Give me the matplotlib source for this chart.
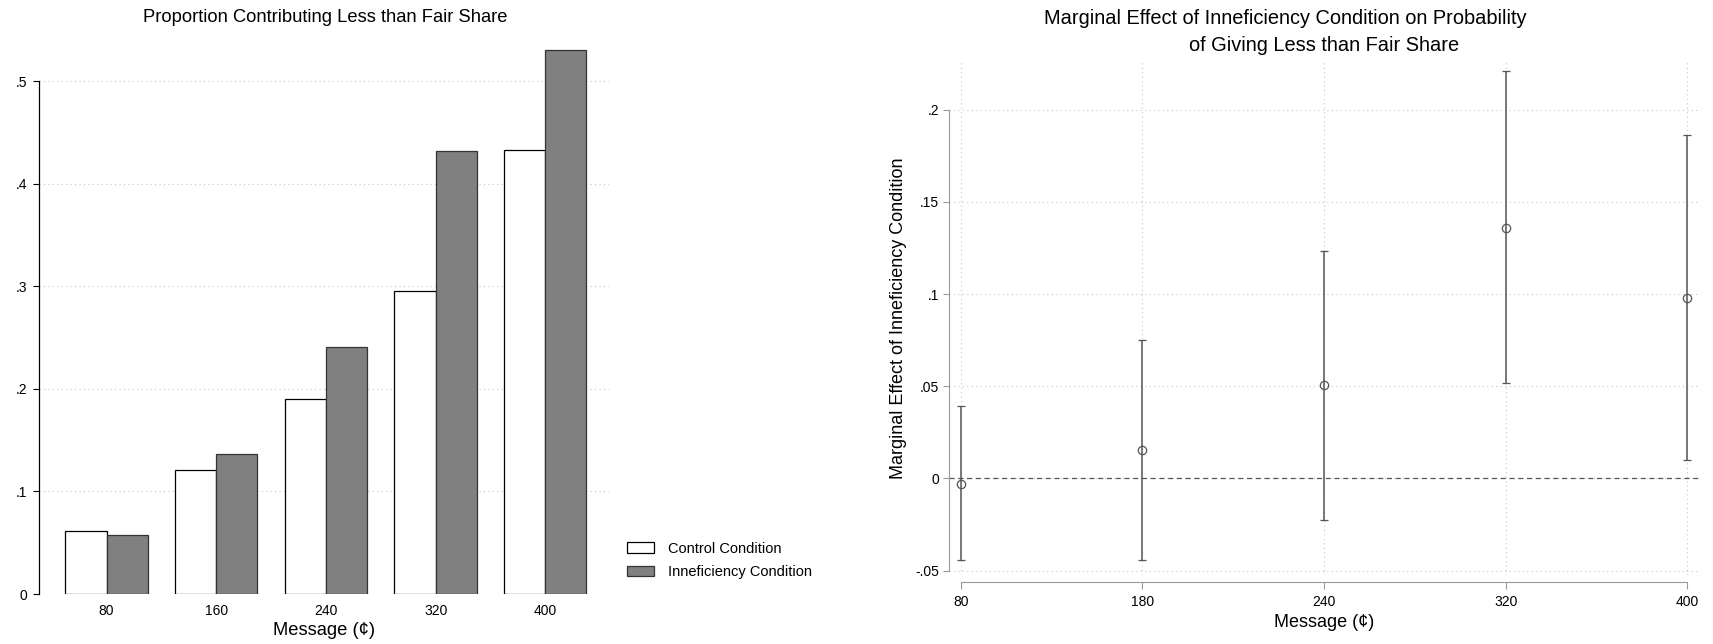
import numpy as np
import matplotlib

# no display in the sandbox
matplotlib.use('Agg')

import matplotlib.pyplot as plt

plt.rcParams['font.family'] = ['Liberation Sans', 'DejaVu Sans']

# left panel: share contributing less than fair share
messages = ['80', '160', '240', '320', '400']
control_share = [0.061, 0.121, 0.190, 0.296, 0.433]
ineff_share = [0.058, 0.137, 0.241, 0.432, 0.531]
share_ticks = [0, 0.1, 0.2, 0.3, 0.4, 0.5]
share_tick_labels = ['0', '.1', '.2', '.3', '.4', '.5']

# right panel: marginal effect with confidence intervals
me_labels = ['80', '180', '240', '320', '400']
me_est = [-0.003, 0.0155, 0.0505, 0.136, 0.098]
me_lo = [-0.0445, -0.044, -0.0225, 0.0515, 0.0098]
me_hi = [0.039, 0.075, 0.1235, 0.221, 0.1863]
me_ticks = [-0.05, 0, 0.05, 0.1, 0.15, 0.2]
me_tick_labels = ['-.05', '0', '.05', '.1', '.15', '.2']

W, H = 1713, 644
fig = plt.figure(figsize=(W / 100, H / 100), dpi=100)


def px(x0, y0, x1, y1):
    # pixel box (left, top, right, bottom) -> figure fraction rect
    return [x0 / W, 1 - y1 / H, (x1 - x0) / W, (y1 - y0) / H]


grid_kw = dict(linestyle=(0, (1, 3)), color='#c4c4c4', linewidth=0.8)

# ---- left chart
ax = fig.add_axes(px(38.6, 45.6, 608.6, 594))
x = np.arange(len(messages))
bw = 0.375
ax.bar(x - bw / 2, control_share, width=bw, color='white', edgecolor='black',
       linewidth=0.9, label='Control Condition', zorder=3)
ax.bar(x + bw / 2, ineff_share, width=bw, color='#808080', edgecolor='#333333',
       linewidth=0.9, label='Inneficiency Condition', zorder=3)
ax.set_xlim(-0.619, 4.577)
ax.set_ylim(0, 0.535)
ax.set_yticks(share_ticks)
ax.set_yticklabels(share_tick_labels, fontsize=10)
ax.set_xticks(x)
ax.set_xticklabels(messages, fontsize=10)
ax.tick_params(axis='x', length=0, pad=7)
ax.tick_params(axis='y', length=4, width=0.8, pad=4)
ax.yaxis.grid(True, **grid_kw)
ax.set_axisbelow(True)
for s in ['top', 'right', 'bottom']:
    ax.spines[s].set_visible(False)
ax.spines['left'].set_bounds(0, 0.5)
ax.spines['left'].set_linewidth(0.9)
ax.set_xlabel('Message (¢)', fontsize=13.2, labelpad=3)

fig.text(325.5 / W, 1 - 17.7 / H, 'Proportion Contributing Less than Fair Share',
         ha='center', va='center', fontsize=13.2)

fig.legend(loc='center left', bbox_to_anchor=(626.7 / W, 1 - 560.4 / H),
           frameon=False, fontsize=10.5, borderpad=0, borderaxespad=0,
           handlelength=1.85, handleheight=0.75, handletextpad=1.0,
           labelspacing=0.65)

# ---- right chart
ax2 = fig.add_axes(px(949, 61.7, 1700, 575))
x2 = np.arange(len(me_labels))
est = np.array(me_est)
yerr = [est - np.array(me_lo), np.array(me_hi) - est]
ax2.axhline(0, color='#555555', linestyle=(0, (4, 3)), linewidth=0.9, zorder=2)
ax2.errorbar(x2, est, yerr=yerr, fmt='o', mfc='none', mec='#555555', ms=6,
             mew=0.9, ecolor='#555555', elinewidth=1.1, capsize=3, capthick=1.1,
             zorder=3)
ax2.set_xlim(-0.064, 4.07)
ax2.set_ylim(-0.0524, 0.226)
ax2.set_yticks(me_ticks)
ax2.set_yticklabels(me_tick_labels, fontsize=10)
ax2.set_xticks(x2)
ax2.set_xticklabels(me_labels, fontsize=10)
ax2.xaxis.grid(True, **grid_kw)
ax2.yaxis.grid(True, **grid_kw)
ax2.set_axisbelow(True)
for s in ['top', 'right']:
    ax2.spines[s].set_visible(False)
ax2.spines['bottom'].set_position(('outward', 5.3))
ax2.spines['bottom'].set_bounds(0, 4)
ax2.spines['bottom'].set_color('#999999')
ax2.spines['left'].set_bounds(-0.05, 0.2)
ax2.spines['left'].set_color('#999999')
ax2.tick_params(axis='x', length=5, width=0.8, color='#999999', pad=4)
ax2.tick_params(axis='y', length=4, width=0.8, color='#999999', pad=3)
ax2.set_xlabel('Message (¢)', fontsize=13, labelpad=4)
ax2.set_ylabel('Marginal Effect of Inneficiency Condition', fontsize=13, labelpad=6)

fig.text(1285 / W, 1 - 18.3 / H, 'Marginal Effect of Inneficiency Condition on Probability',
         ha='center', va='center', fontsize=14.4)
fig.text(1324 / W, 1 - 45.7 / H, 'of Giving Less than Fair Share',
         ha='center', va='center', fontsize=14.4)

fig.savefig('out.png', dpi=100)
